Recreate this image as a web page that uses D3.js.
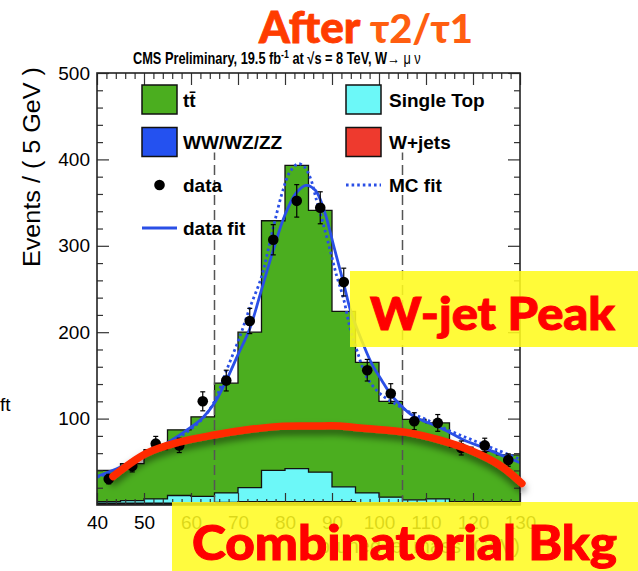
<!DOCTYPE html>
<html>
<head>
<meta charset="utf-8">
<script src="https://cdn.jsdelivr.net/npm/d3@7"></script>
<style>
  body { margin: 0; background: #fff; }
  svg { display: block; }
</style>
</head>
<body>
<svg id="chart" width="638" height="571"></svg>
<script>
// Pruned jet mass, 5 GeV bins from 40 to 130 GeV
const binEdges = [40,45,50,55,60,65,70,75,80,85,90,95,100,105,110,115,120,125,130];

// Stacked MC components (events per bin), bottom to top
const wjets     = [1,1,1,1,1,2,2,2,2,2,2,1,1,1,1,1,1,1];
const diboson   = [1,1,1,1,1,1,2,2,2,2,2,1,1,1,1,1,1,1];
const singleTop = [2,3,5,9,8,11,16,36,38,34,17,12,7,4,5,2,2,2];
const ttbar     = [36,43,57,76,92,127,180,289,351,303,203,151,111,93,88,63,58,54];

// Data (bin centres, counts, Poisson errors)
const dataMass   = [42.5,47.5,52.5,57.5,62.5,67.5,72.5,77.5,82.5,87.5,92.5,97.5,102.5,107.5,112.5,117.5,122.5,127.5];
const dataCounts = [30,45,71,69,120,144,213,307,352,344,258,156,129,97,95,66,69,52];
const dataErrors = [5.5,6.7,8.4,8.3,11.0,12.0,14.6,17.5,18.8,18.5,16.1,12.5,11.4,9.8,9.7,8.1,8.3,7.2];

// Fitted shapes sampled along the mass axis: [GeV, events]
const dataFit = [[40,33],[45,44],[50,58],[55,72],[60,90],[62.5,101],[65,118],[67.5,144],[70,174],[72.5,204],
  [75,249],[77.5,295],[80,336],[82.5,362],[84.5,370],[86.5,364],[88.5,338],[90.5,297],[92.5,256],[94,224],
  [96.5,188],[98.5,163],[100.5,145],[102.5,128],[104.5,116],[107,104],[110,96],[112,92],[115,84],
  [118.5,74],[122,67],[125,60],[130,49]];
const mcFit = [[40,32],[45,42],[50,56],[55,70],[60,88],[62.5,100],[65,120],[67.5,155],[70.4,195],[72.5,228],
  [75,264],[76.4,295],[77.9,330],[79.6,365],[81,385],[82.8,395],[84,392],[85.3,380],[86.7,353],[88.1,326],
  [89.6,295],[91,265],[92.4,240],[93.8,206],[95.3,179],[97.4,148],[100.2,129],[103.8,116],[107,106],
  [110,99],[115,86],[120,75],[125,64],[130,53]];

// Hand-drawn combinatorial background arc: [GeV, events]
const bkgArc = [[43.4,33],[50.6,60],[57.7,73],[64.9,81],[71.9,87],[78.9,91],[86,91.4],[91.7,91.4],[96,89],
  [98.7,88],[105.9,84],[113,75],[120,62],[125.7,46],[130.4,25]];

// Signal window edges
const windowEdges = [65, 105];

// Axis ticks
const xMajor = [40,50,60,70,80,90,100,110,120,130];
const yMajor = [100,200,300,400,500];

const legendLeft  = ["t\u0074\u0304", "WW/WZ/ZZ", "data", "data fit"];
const legendRight = ["Single Top", "W+jets", "MC fit"];

const colors = {
  ttbar: "#4bae1f", singleTop: "#6cf8f8", diboson: "#2451f0", wjets: "#ee3a2e",
  fit: "#2a4fe6"
};

const W = 638, H = 571;
const frame = { left: 97, right: 520, top: 73, bottom: 505 };
const svg = d3.select("#chart");
const font = "'Liberation Sans', Arial, Helvetica, sans-serif";

const x = d3.scaleLinear().domain([40, 130]).range([frame.left, frame.right]);
const y = d3.scaleLinear().domain([0, 500]).range([frame.bottom, frame.top]);

svg.append("rect").attr("width", W).attr("height", H).attr("fill", "#fff");

const defs = svg.append("defs");
defs.append("clipPath").attr("id", "frameClip").append("rect")
  .attr("x", frame.left).attr("y", frame.top)
  .attr("width", frame.right - frame.left).attr("height", frame.bottom - frame.top);
const shadow = defs.append("filter").attr("id", "arcShadow")
  .attr("x", "-10%").attr("y", "-50%").attr("width", "120%").attr("height", "250%");
shadow.append("feDropShadow").attr("dx", 0).attr("dy", 5).attr("stdDeviation", 3.5)
  .attr("flood-color", "#000").attr("flood-opacity", 0.5);

const plot = svg.append("g").attr("clip-path", "url(#frameClip)");

// Cumulative stacks, drawn from the full stack down
const layers = [wjets, diboson, singleTop, ttbar];
const cumul = [];
let running = binEdges.slice(0, -1).map(() => 0);
layers.forEach(l => { running = running.map((v, i) => v + l[i]); cumul.push(running.slice()); });
const fills = [colors.wjets, colors.diboson, colors.singleTop, colors.ttbar];

function stepPoints(vals) {
  const pts = binEdges.slice(0, -1).map((e, i) => [e, vals[i]]);
  pts.push([binEdges[binEdges.length - 1], vals[vals.length - 1]]);
  return pts;
}
const stepArea = d3.area().curve(d3.curveStepAfter)
  .x(d => x(d[0])).y0(y(0)).y1(d => y(d[1]));
const stepLine = d3.line().curve(d3.curveStepAfter)
  .x(d => x(d[0])).y(d => y(d[1]));

for (let k = layers.length - 1; k >= 0; k--) {
  const pts = stepPoints(cumul[k]);
  plot.append("path").attr("d", stepArea(pts)).attr("fill", fills[k]);
  plot.append("path").attr("d", stepLine(pts)).attr("fill", "none")
    .attr("stroke", "#111").attr("stroke-width", 1.3);
}

// Signal window markers
windowEdges.forEach(m => {
  plot.append("line").attr("x1", x(m)).attr("x2", x(m))
    .attr("y1", y(0)).attr("y2", y(408))
    .attr("stroke", "#555").attr("stroke-width", 1.5).attr("stroke-dasharray", "10,5");
});

// Fit curves
const curve = d3.line().curve(d3.curveCatmullRom.alpha(0.5))
  .x(d => x(d[0])).y(d => y(d[1]));
plot.append("path").attr("d", curve(mcFit)).attr("fill", "none")
  .attr("stroke", colors.fit).attr("stroke-width", 2.8).attr("stroke-dasharray", "2.6,3");
plot.append("path").attr("d", curve(dataFit)).attr("fill", "none")
  .attr("stroke", colors.fit).attr("stroke-width", 2.8);

// Data points with error bars
const pts = plot.append("g");
dataMass.forEach((m, i) => {
  const cx = x(m), lo = y(dataCounts[i] - dataErrors[i]), hi = y(dataCounts[i] + dataErrors[i]);
  pts.append("line").attr("x1", cx).attr("x2", cx).attr("y1", lo).attr("y2", hi)
    .attr("stroke", "#000").attr("stroke-width", 1.2);
  [lo, hi].forEach(yy => pts.append("line").attr("x1", cx - 2.5).attr("x2", cx + 2.5)
    .attr("y1", yy).attr("y2", yy).attr("stroke", "#000").attr("stroke-width", 1.2));
  pts.append("circle").attr("cx", cx).attr("cy", y(dataCounts[i])).attr("r", 5.3).attr("fill", "#000");
});

// Axes (ticks inside the frame on all four sides)
const xMinor = d3.range(40, 131, 2).filter(v => v % 10 !== 0);
const yMinor = d3.range(20, 500, 20).filter(v => v % 100 !== 0);
const tickStyle = g => { g.select(".domain").remove(); g.selectAll(".tick line").attr("stroke", "#333").attr("stroke-width", 1.2); };

const xAxis = svg.append("g").attr("transform", `translate(0,${frame.bottom})`)
  .call(d3.axisBottom(x).tickValues(xMajor).tickSize(-12).tickPadding(11).tickFormat(d3.format("d")))
  .call(tickStyle);
xAxis.selectAll("text").attr("font-family", font).attr("font-size", 19).attr("fill", "#000");
svg.append("g").attr("transform", `translate(0,${frame.bottom})`)
  .call(d3.axisBottom(x).tickValues(xMinor).tickSize(-6).tickFormat("")).call(tickStyle);
svg.append("g").attr("transform", `translate(0,${frame.top})`)
  .call(d3.axisTop(x).tickValues(xMajor).tickSize(-12).tickFormat("")).call(tickStyle);
svg.append("g").attr("transform", `translate(0,${frame.top})`)
  .call(d3.axisTop(x).tickValues(xMinor).tickSize(-6).tickFormat("")).call(tickStyle);

const yAxis = svg.append("g").attr("transform", `translate(${frame.left},0)`)
  .call(d3.axisLeft(y).tickValues(yMajor).tickSize(-12).tickPadding(7).tickFormat(d3.format("d")))
  .call(tickStyle);
yAxis.selectAll("text").attr("font-family", font).attr("font-size", 19).attr("fill", "#000");
svg.append("g").attr("transform", `translate(${frame.left},0)`)
  .call(d3.axisLeft(y).tickValues(yMinor).tickSize(-6).tickFormat("")).call(tickStyle);
svg.append("g").attr("transform", `translate(${frame.right},0)`)
  .call(d3.axisRight(y).tickValues(yMajor).tickSize(-12).tickFormat("")).call(tickStyle);
svg.append("g").attr("transform", `translate(${frame.right},0)`)
  .call(d3.axisRight(y).tickValues(yMinor).tickSize(-6).tickFormat("")).call(tickStyle);

svg.append("rect").attr("x", frame.left).attr("y", frame.top)
  .attr("width", frame.right - frame.left).attr("height", frame.bottom - frame.top)
  .attr("fill", "none").attr("stroke", "#222").attr("stroke-width", 1.6);

// Axis titles
svg.append("text").attr("transform", "translate(40,167) rotate(-90)")
  .attr("text-anchor", "middle").attr("font-family", font).attr("font-size", 23)
  .attr("textLength", 200).attr("lengthAdjust", "spacingAndGlyphs")
  .text("Events / ( 5 GeV )");
svg.append("text").attr("x", frame.right).attr("y", 553).attr("text-anchor", "end")
  .attr("font-family", font).attr("font-size", 20).text("pruned jet mass (GeV)");

// Header line, condensed horizontally to the frame's header width
const hdrG = svg.append("g");
const hdr = hdrG.append("text").attr("x", 0).attr("y", 0)
  .attr("font-family", font).attr("font-size", 16).attr("font-weight", "bold");
hdr.append("tspan").text("CMS Preliminary, 19.5 fb");
hdr.append("tspan").attr("dy", -6).attr("font-size", 11).text("-1");
hdr.append("tspan").attr("dy", 6).text(" at \u221As = 8 TeV, W\u2192 ");
hdr.append("tspan").attr("font-weight", "normal").text("\u03BC \u03BD");
const hdrW = hdr.node().getBBox().width;
hdrG.attr("transform", `translate(133,64) scale(${288 / hdrW},1)`);

// Legend
const lg = svg.append("g").attr("font-family", font).attr("font-size", 19).attr("font-weight", "bold");
const rowY = [99.5, 142, 185, 228];
const colBox = [142, 346], colText = [183, 389];
[[colors.ttbar, 0], [colors.diboson, 1]].forEach(([c, r]) => {
  lg.append("rect").attr("x", colBox[0]).attr("y", rowY[r] - 14.5).attr("width", 35).attr("height", 29)
    .attr("fill", c).attr("stroke", "#111").attr("stroke-width", 1.5);
});
[[colors.singleTop, 0], [colors.wjets, 1]].forEach(([c, r]) => {
  lg.append("rect").attr("x", colBox[1]).attr("y", rowY[r] - 14.5).attr("width", 35).attr("height", 29)
    .attr("fill", c).attr("stroke", "#111").attr("stroke-width", 1.5);
});
lg.append("circle").attr("cx", colBox[0] + 17.5).attr("cy", rowY[2]).attr("r", 5.3).attr("fill", "#000");
lg.append("line").attr("x1", colBox[0]).attr("x2", colBox[0] + 35).attr("y1", rowY[3]).attr("y2", rowY[3])
  .attr("stroke", colors.fit).attr("stroke-width", 2.8);
lg.append("line").attr("x1", colBox[1]).attr("x2", colBox[1] + 35).attr("y1", rowY[2]).attr("y2", rowY[2])
  .attr("stroke", colors.fit).attr("stroke-width", 2.8).attr("stroke-dasharray", "2.6,3");
legendLeft.forEach((t, i) => lg.append("text").attr("x", colText[0]).attr("y", rowY[i] + 7).text(t));
legendRight.forEach((t, i) => lg.append("text").attr("x", colText[1]).attr("y", rowY[i] + 7).text(t));

// Stray slide text at the left edge
svg.append("text").attr("x", 0).attr("y", 411).attr("font-family", font).attr("font-size", 19).text("ft");

// Slide annotations
const ann = "Lato, 'Gill Sans', 'Open Sans', sans-serif";
const ttl = svg.append("text").attr("x", 366).attr("y", 43).attr("text-anchor", "middle")
  .attr("font-family", ann).attr("font-weight", 900).attr("font-size", 44);
ttl.append("tspan").attr("fill", "#ff3c00").attr("stroke", "#ff3c00").attr("stroke-width", 0.8).text("After ");
ttl.append("tspan").attr("fill", "#ff5e10").attr("font-size", 40).text("\u03C42/\u03C41");

svg.append("path").attr("d", curve(bkgArc)).attr("fill", "none")
  .attr("stroke", "#ff2a00").attr("stroke-width", 7.5).attr("stroke-linecap", "round")
  .attr("filter", "url(#arcShadow)");

svg.append("rect").attr("x", 350).attr("y", 271).attr("width", 288).attr("height", 76)
  .attr("fill", "#fffa1e").attr("opacity", 0.88);
svg.append("text").attr("x", 370).attr("y", 330)
  .attr("font-family", ann).attr("font-weight", 900).attr("font-size", 45).attr("fill", "#ff0000")
  .attr("stroke", "#ff0000").attr("stroke-width", 1)
  .attr("textLength", 245).attr("lengthAdjust", "spacingAndGlyphs")
  .text("W-jet Peak");

svg.append("rect").attr("x", 172).attr("y", 502).attr("width", 466).attr("height", 69)
  .attr("fill", "#fffa1e").attr("opacity", 0.86);
svg.append("text").attr("x", 192).attr("y", 560)
  .attr("font-family", ann).attr("font-weight", 900).attr("font-size", 48).attr("fill", "#ff0000")
  .attr("stroke", "#ff0000").attr("stroke-width", 1)
  .attr("textLength", 425).attr("lengthAdjust", "spacingAndGlyphs")
  .text("Combinatorial Bkg");
</script>
</body>
</html>
